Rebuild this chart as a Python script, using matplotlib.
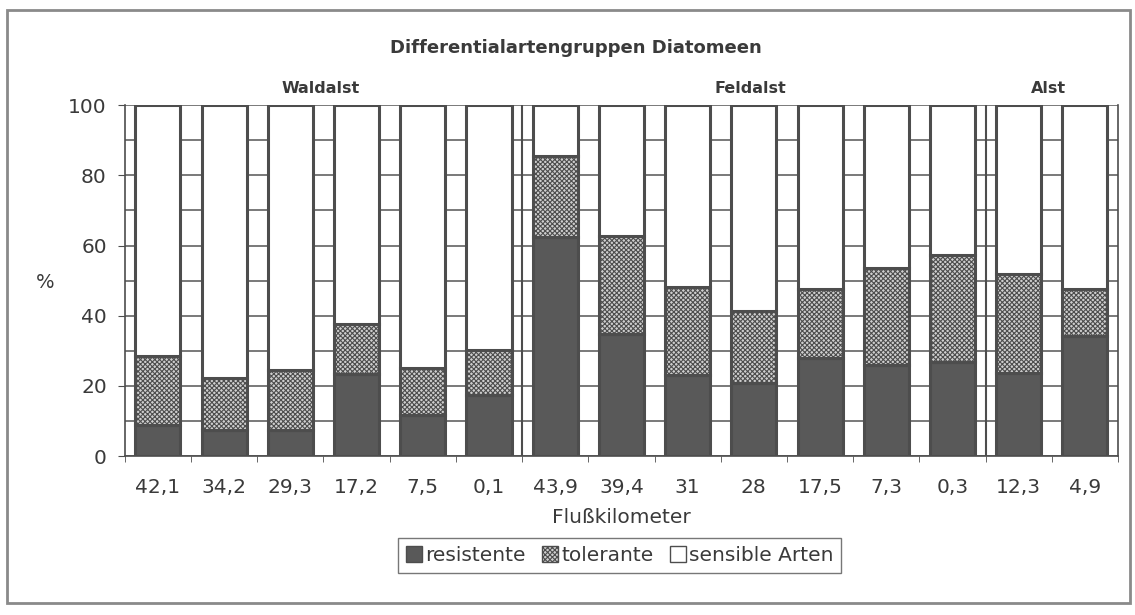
import numpy as np
import matplotlib.pyplot as plt
from matplotlib.patches import Rectangle, Patch

# Werte (%)
km_labels = ['42,1', '34,2', '29,3', '17,2', '7,5', '0,1',
             '43,9', '39,4', '31', '28', '17,5', '7,3', '0,3',
             '12,3', '4,9']
resistente = [8.8, 7.4, 7.4, 23.5, 11.7, 17.4,
              62.5, 34.9, 23.1, 20.7, 27.8, 25.9, 26.9,
              23.7, 34.2]
tolerante_top = [28.6, 22.1, 24.5, 37.5, 25.2, 30.2,
                 85.5, 62.8, 48.2, 41.4, 47.6, 53.7, 57.3,
                 51.9, 47.5]
gruppen = ['Waldalst', 'Feldalst', 'Alst']
gruppen_x = [2.45, 8.95, 13.45]
trenner = [5.5, 12.5]

tolerante = [t - r for t, r in zip(tolerante_top, resistente)]
sensible = [100 - t for t in tolerante_top]

plt.rcParams['font.family'] = ['DejaVu Sans']
plt.rcParams['hatch.color'] = '#555555'
plt.rcParams['hatch.linewidth'] = 0.8
txt = '#3a3a3a'
edge = '#4d4d4d'

fig = plt.figure(figsize=(11.35, 6.15), dpi=100)
fig.patches.append(Rectangle((0.006, 0.02), 0.99, 0.963, transform=fig.transFigure,
                             fill=False, edgecolor='#8a8a8a', linewidth=2))
ax = fig.add_axes([0.110, 0.2585, 0.875, 0.5705])

x = np.arange(len(km_labels))
w = 0.68
ax.bar(x, resistente, w, color='#595959', edgecolor=edge, linewidth=2.2,
       label='resistente', zorder=3)
ax.bar(x, tolerante, w, bottom=resistente, color='#cfcfcf', edgecolor=edge,
       linewidth=2.2, hatch='xxxxxxx', label='tolerante', zorder=3)
ax.bar(x, sensible, w, bottom=tolerante_top, color='white', edgecolor=edge,
       linewidth=2.2, label='sensible Arten', zorder=3)

for s in trenner:
    ax.axvline(s, color=edge, linewidth=1.5, zorder=2)

ax.set_xlim(-0.5, len(km_labels) - 0.5)
ax.set_ylim(0, 100)
ax.set_yticks(np.arange(0, 101, 20))
ax.set_yticks(np.arange(0, 101, 10), minor=True)
ax.grid(axis='y', which='both', color='#555555', linewidth=1.1, zorder=1)
ax.set_xticks(x)
ax.set_xticklabels(km_labels)
ax.set_xticks(np.arange(-0.5, len(km_labels), 1), minor=True)
ax.tick_params(axis='x', which='major', length=0, pad=16, labelsize=14.5, labelcolor=txt)
ax.tick_params(axis='x', which='minor', length=4, color=edge)
ax.tick_params(axis='y', which='major', length=5, color=edge, pad=8,
               labelsize=14.5, labelcolor=txt)
ax.tick_params(axis='y', which='minor', length=0)
ax.spines['top'].set_visible(False)
for sp in ['left', 'bottom', 'right']:
    ax.spines[sp].set_color(edge)
    ax.spines[sp].set_linewidth(1.2)

ax.set_xlabel('Flußkilometer', fontsize=14.5, color=txt, labelpad=8)
fig.text(0.040, 0.54, '%', fontsize=14, color=txt, ha='center', va='center')
fig.text(0.507, 0.922, 'Differentialartengruppen Diatomeen', fontsize=13,
         fontweight='bold', color=txt, ha='center', va='center')
for name, gx in zip(gruppen, gruppen_x):
    ax.text(gx, 102.5, name, fontsize=11.5, fontweight='bold', color=txt,
            ha='center', va='bottom')

handles = [Patch(facecolor='#595959', edgecolor=edge),
           Patch(facecolor='#cfcfcf', edgecolor=edge, hatch='xxxxxxx'),
           Patch(facecolor='white', edgecolor=edge)]
leg = fig.legend(handles, ['resistente', 'tolerante', 'sensible Arten'],
                 loc='center', bbox_to_anchor=(0.546, 0.097), ncol=3,
                 fontsize=14.5, frameon=True, fancybox=False,
                 handlelength=0.8, handleheight=0.8, handletextpad=0.15,
                 columnspacing=0.8, borderpad=0.4, labelcolor=txt)
leg.get_frame().set_edgecolor('#555555')
leg.get_frame().set_linewidth(1.0)

fig.savefig('out.png', dpi=100)
